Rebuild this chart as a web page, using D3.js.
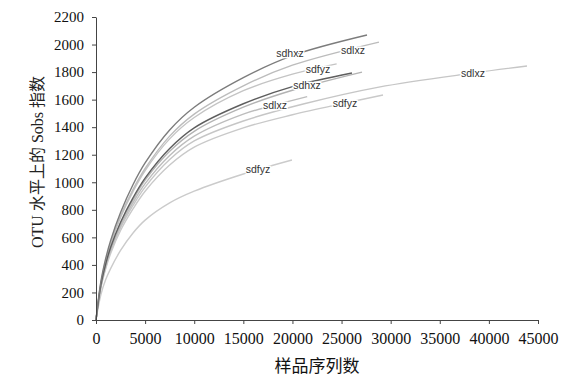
<!DOCTYPE html>
<html><head><meta charset="utf-8">
<script src="https://cdn.jsdelivr.net/npm/d3@7"></script>
<style>body{margin:0;background:#fff}svg{display:block}</style>
</head><body>
<svg id="c" width="574" height="380"></svg>
<script>
// ---- data ----
const xTicks = [0,5000,10000,15000,20000,25000,30000,35000,40000,45000];
const yTicks = [0,200,400,600,800,1000,1200,1400,1600,1800,2000,2200];
const xTitle = "样品序列数";
const yTitle = "OTU 水平上的 Sobs 指数";

const sdhxz1 = [[0,0],[500,280],[1000,450],[1500,580],[2500,780],[3750,980],[5000,1140],[7500,1380],[10000,1545],[15000,1760],[20000,1920],[27590,2069]];
const sdlxz1 = [[0,0],[500,270],[1000,435],[1500,560],[2500,755],[3750,945],[5000,1100],[7500,1335],[10000,1495],[15000,1700],[20000,1850],[28810,2018]];
const sdfyz1 = [[0,0],[500,265],[1000,430],[1500,555],[2500,745],[3750,930],[5000,1085],[7500,1315],[10000,1470],[15000,1665],[20000,1785],[24500,1860]];
const sdhxz2 = [[0,0],[500,255],[1000,410],[1500,530],[2500,710],[3750,885],[5000,1030],[7500,1245],[10000,1395],[15000,1570],[20000,1695],[26060,1793]];
const sdlxz2 = [[0,0],[500,250],[1000,405],[1500,520],[2500,700],[3750,870],[5000,1015],[7500,1225],[10000,1370],[15000,1545],[20000,1668],[27080,1800]];
const sdlxz3 = [[0,0],[500,245],[1000,395],[1500,510],[2500,685],[3750,850],[5000,990],[7500,1195],[10000,1335],[15000,1495],[18220,1561],[21500,1622]];
const sdlxz4 = [[0,0],[500,240],[1000,385],[1500,500],[2500,670],[3750,830],[5000,965],[7500,1165],[10000,1300],[15000,1445],[21200,1570],[28800,1691],[38380,1793],[43880,1844]];
const sdfyz2 = [[0,0],[500,235],[1000,375],[1500,485],[2500,650],[3750,805],[5000,935],[7500,1125],[10000,1255],[15000,1395],[20000,1490],[25350,1575],[29220,1634]];
const sdfyz3 = [[0,0],[500,185],[1000,295],[1500,375],[2500,505],[3750,630],[5000,725],[7500,850],[10000,935],[15000,1060],[19950,1162]];

const seriesList = [sdlxz4, sdfyz2, sdfyz3, sdlxz3, sdlxz2, sdfyz1, sdlxz1, sdhxz2, sdhxz1];
const seriesShade = ["#c6c6c6","#c9c9c9","#cbcbcb","#bdbdbd","#b3b3b3","#c4c4c4","#bcbcbc","#5e5e5e","#7c7c7c"];

const labelText = ["sdhxz","sdlxz","sdfyz","sdhxz","sdlxz","sdfyz","sdlxz","sdfyz"];
const labelX = [19750,26160,22600,21480,18220,25350,38380,16490];
const labelY = [1938,1960,1822,1706,1561,1572,1793,1095];

// ---- drawing ----
const svg = d3.select("#c");
const x = d3.scaleLinear().domain([0,45000]).range([96,538]);
const y = d3.scaleLinear().domain([0,2200]).range([320,17]);

const line = d3.line().x(d=>x(d[0])).y(d=>y(d[1])).curve(d3.curveCatmullRom.alpha(0.5));
svg.append("g").selectAll("path").data(seriesList).join("path")
  .attr("d", line).attr("fill","none")
  .attr("stroke",(d,i)=>seriesShade[i]).attr("stroke-width",1.4);

svg.append("g").selectAll("text").data(labelText).join("text")
  .attr("x",(d,i)=>x(labelX[i])).attr("y",(d,i)=>y(labelY[i]))
  .attr("text-anchor","middle").attr("dominant-baseline","central")
  .attr("font-family","Liberation Sans, Arial, sans-serif").attr("font-size",10.5)
  .attr("fill","#333").attr("stroke","#fff").attr("stroke-width",2.5)
  .attr("paint-order","stroke").text(d=>d);

const gx = svg.append("g").attr("transform","translate(0,320)")
  .call(d3.axisBottom(x).tickValues(xTicks).tickSize(4).tickPadding(9).tickSizeOuter(0).tickFormat(d3.format("d")));
const gy = svg.append("g").attr("transform","translate(96,0)")
  .call(d3.axisLeft(y).tickValues(yTicks).tickSize(4).tickPadding(8).tickSizeOuter(0).tickFormat(d3.format("d")));
[gx,gy].forEach(g=>{
  g.select(".domain").attr("stroke","#444");
  g.selectAll(".tick line").attr("stroke","#444");
  g.selectAll("text").attr("font-family","Liberation Serif, Times New Roman, serif").attr("fill","#111");
});
gx.selectAll("text").attr("font-size",16);
gy.selectAll("text").attr("font-size",15);

svg.append("text").attr("x",317).attr("y",372).attr("text-anchor","middle")
  .attr("font-family","Liberation Serif, Noto Sans CJK SC, serif").attr("font-size",17).attr("fill","#111")
  .text(xTitle);
svg.append("text").attr("transform","translate(43,162) rotate(-90)").attr("text-anchor","middle")
  .attr("font-family","Liberation Serif, Noto Sans CJK SC, serif").attr("font-size",16).attr("fill","#222")
  .text(yTitle);
</script>
</body></html>
